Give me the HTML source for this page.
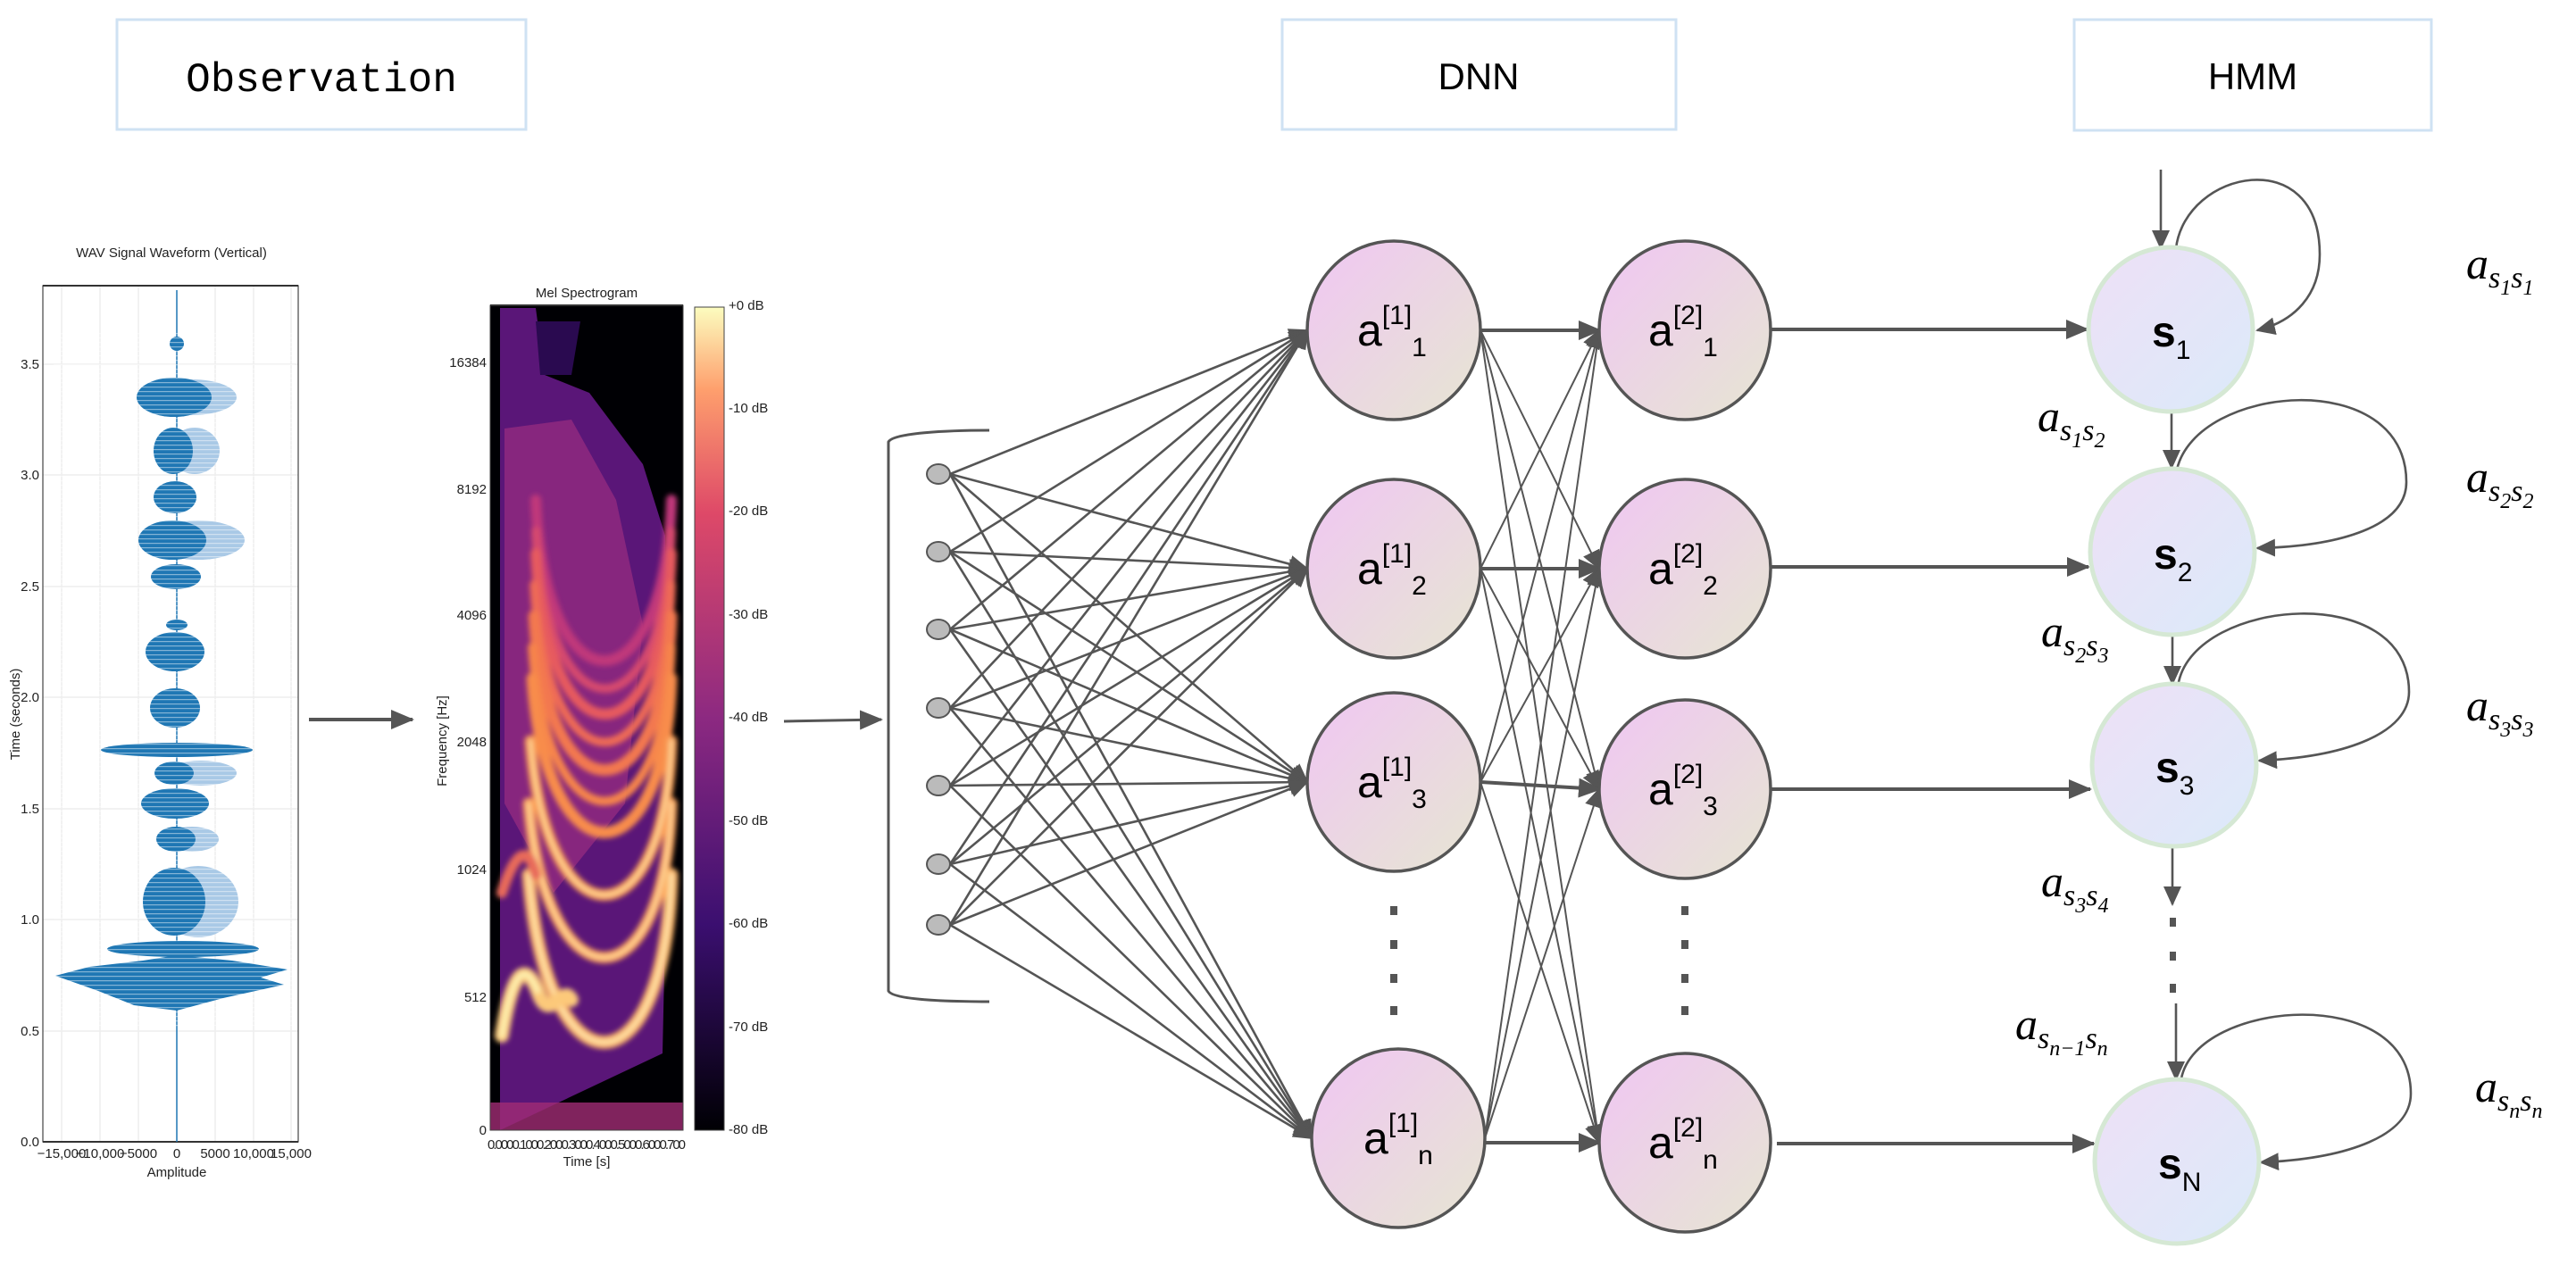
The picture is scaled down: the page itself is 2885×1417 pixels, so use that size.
<!DOCTYPE html>
<html><head><meta charset="utf-8"><style>
html,body{margin:0;padding:0;background:#fff;}
svg{display:block;}
.ax{font-family:"Liberation Sans Narrow","Liberation Sans",sans-serif;font-size:15px;fill:#222;}
.nd{font-family:"Liberation Sans",Arial,sans-serif;fill:#000;}
.mt{font-family:"Liberation Serif",serif;font-style:italic;fill:#000;}
</style></head><body>
<svg width="2885" height="1417" viewBox="0 0 2885 1417" xmlns="http://www.w3.org/2000/svg">
<defs>
<marker id="ah" markerUnits="userSpaceOnUse" markerWidth="26" markerHeight="22" refX="24" refY="11" orient="auto"><path d="M0,0 L26,11 L0,22 z" fill="#555"/></marker>
<marker id="ahs" markerUnits="userSpaceOnUse" markerWidth="22" markerHeight="20" refX="20" refY="10" orient="auto"><path d="M0,0 L22,10 L0,20 z" fill="#555"/></marker>
<linearGradient id="gd" x1="0" y1="0" x2="1" y2="1"><stop offset="0" stop-color="#f0c6f3"/><stop offset="1" stop-color="#e6e6d2"/></linearGradient>
<linearGradient id="gh" x1="0" y1="0" x2="1" y2="1"><stop offset="0" stop-color="#eee0f6"/><stop offset="1" stop-color="#dbeafa"/></linearGradient>
<linearGradient id="cb" x1="0" y1="1" x2="0" y2="0"><stop offset="0" stop-color="#000004"/><stop offset="0.25" stop-color="#3b0f70"/><stop offset="0.5" stop-color="#8c2981"/><stop offset="0.75" stop-color="#de4968"/><stop offset="0.9" stop-color="#fe9f6d"/><stop offset="1" stop-color="#fcfdbf"/></linearGradient>
<filter id="bl"><feGaussianBlur stdDeviation="3"/></filter>
<clipPath id="spc"><rect x="549" y="342" width="216" height="924"/></clipPath>
<pattern id="stp" width="6" height="5" patternUnits="userSpaceOnUse"><rect x="0" y="3" width="6" height="1.2" fill="#fff" opacity="0.45"/></pattern>
</defs>

<!-- title boxes -->
<rect x="131" y="22" width="458" height="123" fill="#fff" stroke="#cfe2f3" stroke-width="3"/>
<text x="360" y="102" text-anchor="middle" font-family="Liberation Mono,monospace" font-size="46">Observation</text>
<rect x="1436" y="22" width="441" height="123" fill="#fff" stroke="#cfe2f3" stroke-width="3"/>
<text x="1656" y="100" text-anchor="middle" font-family="Liberation Sans,sans-serif" font-size="42">DNN</text>
<rect x="2323" y="22" width="400" height="124" fill="#fff" stroke="#cfe2f3" stroke-width="3"/>
<text x="2523" y="100" text-anchor="middle" font-family="Liberation Sans,sans-serif" font-size="42">HMM</text>

<!-- waveform plot -->
<text class="ax" x="192" y="288" text-anchor="middle" font-size="16">WAV Signal Waveform (Vertical)</text>
<g stroke="#eee" stroke-width="1.5">
<line x1="48" y1="1155" x2="334" y2="1155"/><line x1="48" y1="1030" x2="334" y2="1030"/><line x1="48" y1="906" x2="334" y2="906"/><line x1="48" y1="781" x2="334" y2="781"/><line x1="48" y1="657" x2="334" y2="657"/><line x1="48" y1="532" x2="334" y2="532"/><line x1="48" y1="408" x2="334" y2="408"/>
<line x1="69" y1="320" x2="69" y2="1279"/><line x1="112" y1="320" x2="112" y2="1279"/><line x1="155" y1="320" x2="155" y2="1279"/><line x1="241" y1="320" x2="241" y2="1279"/><line x1="284" y1="320" x2="284" y2="1279"/><line x1="326" y1="320" x2="326" y2="1279"/>
</g>
<rect x="48" y="320" width="286" height="959" fill="none" stroke="#444" stroke-width="1.2"/>
<line x1="48" y1="320" x2="334" y2="320" stroke="#333" stroke-width="2"/>
<line x1="48" y1="1279" x2="334" y2="1279" stroke="#333" stroke-width="2"/>
<line x1="198" y1="325" x2="198" y2="1279" stroke="#1f77b4" stroke-width="1.5"/>
<g fill="#a9c9e6">
<ellipse cx="222" cy="1010" rx="45" ry="40"/><ellipse cx="215" cy="940" rx="30" ry="14"/><ellipse cx="225" cy="866" rx="40" ry="14"/><ellipse cx="222" cy="605" rx="52" ry="22"/><ellipse cx="218" cy="505" rx="28" ry="26"/><ellipse cx="215" cy="445" rx="50" ry="20"/>
</g>
<g fill="#1f77b4">
<polygon points="198,1132 150,1126 110,1110 62,1093 100,1083 160,1076 198,1070 260,1076 322,1086 292,1095 318,1103 250,1118"/>
<ellipse cx="205" cy="1063" rx="85" ry="9"/>
<ellipse cx="195" cy="1010" rx="35" ry="38"/>
<ellipse cx="197" cy="940" rx="22" ry="14"/>
<ellipse cx="196" cy="900" rx="38" ry="17"/>
<ellipse cx="195" cy="866" rx="22" ry="13"/>
<ellipse cx="198" cy="840" rx="85" ry="8"/>
<ellipse cx="196" cy="793" rx="28" ry="22"/>
<ellipse cx="196" cy="730" rx="33" ry="22"/>
<ellipse cx="198" cy="700" rx="12" ry="6"/>
<ellipse cx="197" cy="646" rx="28" ry="14"/>
<ellipse cx="193" cy="605" rx="38" ry="22"/>
<ellipse cx="196" cy="557" rx="24" ry="18"/>
<ellipse cx="194" cy="505" rx="22" ry="26"/>
<ellipse cx="195" cy="445" rx="42" ry="22"/>
<ellipse cx="198" cy="385" rx="8" ry="8"/>
</g>
<rect x="60" y="370" width="270" height="780" fill="url(#stp)"/>
<g class="ax" text-anchor="end">
<text x="44" y="1284">0.0</text><text x="44" y="1160">0.5</text><text x="44" y="1035">1.0</text><text x="44" y="911">1.5</text><text x="44" y="786">2.0</text><text x="44" y="662">2.5</text><text x="44" y="537">3.0</text><text x="44" y="413">3.5</text>
</g>
<g class="ax" text-anchor="middle" font-size="13">
<text x="69" y="1297">−15,000</text><text x="112" y="1297">−10,000</text><text x="155" y="1297">−5000</text><text x="198" y="1297">0</text><text x="241" y="1297">5000</text><text x="284" y="1297">10,000</text><text x="326" y="1297">15,000</text>
</g>
<text class="ax" x="198" y="1318" text-anchor="middle">Amplitude</text>
<text class="ax" x="0" y="0" transform="translate(22,800) rotate(-90)" text-anchor="middle" font-family="DejaVu Sans,sans-serif" font-size="14">Time (seconds)</text>

<!-- arrow 1 -->
<line x1="346" y1="806" x2="462" y2="806" stroke="#555" stroke-width="4" marker-end="url(#ah)"/>

<!-- spectrogram -->
<text class="ax" x="657" y="333" text-anchor="middle">Mel Spectrogram</text>
<g clip-path="url(#spc)">
<rect x="549" y="342" width="216" height="924" fill="#000004"/>
<path d="M560,345 L600,345 L610,420 L660,440 L720,520 L745,600 L748,900 L742,1180 L560,1266 Z" fill="#5a1678"/>
<path d="M565,480 L640,470 L690,560 L720,700 L700,900 L620,1000 L565,900 Z" fill="#9a2e80" opacity="0.7"/>
<path d="M600,360 L650,360 L640,420 L605,420 Z" fill="#2a0a50"/>
<g fill="none" filter="url(#bl)" stroke-linecap="round">
<path d="M600,560 C610,800 744,800 752,560" stroke="#c0387a" stroke-width="12"/>
<path d="M600,595 C612,830 744,830 752,595" stroke="#d54a6e" stroke-width="10"/>
<path d="M600,620 C612,860 744,860 752,620" stroke="#e65a5e" stroke-width="12"/>
<path d="M598,655 C612,890 744,890 752,655" stroke="#ee6a56" stroke-width="10"/>
<path d="M598,690 C612,920 744,920 752,690" stroke="#f3784f" stroke-width="13"/>
<path d="M596,725 C612,955 744,955 752,725" stroke="#f6844c" stroke-width="10"/>
<path d="M596,760 C612,990 744,990 752,760" stroke="#f88c4c" stroke-width="13"/>
<path d="M594,830 C612,1060 744,1060 752,830" stroke="#f99b52" stroke-width="13"/>
<path d="M592,900 C612,1130 744,1130 752,900" stroke="#fba05a" stroke-width="13"/>
<path d="M592,980 C612,1230 744,1230 752,980" stroke="#fcb366" stroke-width="15"/>
<path d="M594,830 C612,1060 744,1060 752,830" stroke="#fdd89a" stroke-width="4"/>
<path d="M592,900 C612,1130 744,1130 752,900" stroke="#fdd89a" stroke-width="4"/>
<path d="M592,980 C612,1230 744,1230 752,980" stroke="#fde2a8" stroke-width="5"/>
<path d="M562,1160 C575,1080 590,1080 602,1110 C615,1150 630,1100 640,1120" stroke="#fcc97a" stroke-width="16"/>
<path d="M562,1160 C575,1080 590,1080 602,1110" stroke="#fdf0b0" stroke-width="6"/>
<path d="M562,1000 C575,960 590,940 600,980" stroke="#e86a5a" stroke-width="12"/>
</g>
<rect x="549" y="1235" width="216" height="31" fill="#a02c74" opacity="0.8"/>
</g>
<rect x="549" y="342" width="216" height="924" fill="none" stroke="#444" stroke-width="1"/>
<line x1="549" y1="342" x2="765" y2="342" stroke="#333" stroke-width="2"/>
<g class="ax" text-anchor="end">
<text x="545" y="411">16384</text><text x="545" y="553">8192</text><text x="545" y="694">4096</text><text x="545" y="836">2048</text><text x="545" y="979">1024</text><text x="545" y="1122">512</text><text x="545" y="1271">0</text>
</g>
<text class="ax" x="0" y="0" transform="translate(500,830) rotate(-90)" text-anchor="middle" font-family="DejaVu Sans,sans-serif" font-size="12">Frequency [Hz]</text>
<text class="ax" x="657" y="1287" text-anchor="middle" font-size="14" textLength="222">0.0000.1000.2000.3000.4000.5000.6000.700</text>
<text class="ax" x="657" y="1306" text-anchor="middle" font-size="13">Time [s]</text>
<rect x="778" y="344" width="33" height="922" fill="url(#cb)" stroke="#444" stroke-width="1"/>
<g class="ax">
<text x="816" y="347">+0 dB</text><text x="816" y="462">-10 dB</text><text x="816" y="577">-20 dB</text><text x="816" y="693">-30 dB</text><text x="816" y="808">-40 dB</text><text x="816" y="924">-50 dB</text><text x="816" y="1039">-60 dB</text><text x="816" y="1155">-70 dB</text><text x="816" y="1270">-80 dB</text>
</g>

<!-- arrow 2 -->
<line x1="878" y1="808" x2="987" y2="806" stroke="#555" stroke-width="3" marker-end="url(#ah)"/>

<!-- bracket -->
<path d="M1108,482 C1060,482 1000,485 995,495 L995,1110 C1000,1120 1060,1122 1108,1122" fill="none" stroke="#555" stroke-width="3"/>

<!-- input edges -->
<g stroke="#555" stroke-width="2.6" marker-end="url(#ahs)">
<line x1="1064" y1="531" x2="1464" y2="370"/><line x1="1064" y1="531" x2="1464" y2="637"/><line x1="1064" y1="531" x2="1464" y2="876"/><line x1="1064" y1="531" x2="1469" y2="1275"/>
<line x1="1064" y1="618" x2="1464" y2="370"/><line x1="1064" y1="618" x2="1464" y2="637"/><line x1="1064" y1="618" x2="1464" y2="876"/><line x1="1064" y1="618" x2="1469" y2="1275"/>
<line x1="1064" y1="705" x2="1464" y2="370"/><line x1="1064" y1="705" x2="1464" y2="637"/><line x1="1064" y1="705" x2="1464" y2="876"/><line x1="1064" y1="705" x2="1469" y2="1275"/>
<line x1="1064" y1="793" x2="1464" y2="370"/><line x1="1064" y1="793" x2="1464" y2="637"/><line x1="1064" y1="793" x2="1464" y2="876"/><line x1="1064" y1="793" x2="1469" y2="1275"/>
<line x1="1064" y1="880" x2="1464" y2="370"/><line x1="1064" y1="880" x2="1464" y2="637"/><line x1="1064" y1="880" x2="1464" y2="876"/><line x1="1064" y1="880" x2="1469" y2="1275"/>
<line x1="1064" y1="968" x2="1464" y2="370"/><line x1="1064" y1="968" x2="1464" y2="637"/><line x1="1064" y1="968" x2="1464" y2="876"/><line x1="1064" y1="968" x2="1469" y2="1275"/>
<line x1="1064" y1="1036" x2="1464" y2="370"/><line x1="1064" y1="1036" x2="1464" y2="637"/><line x1="1064" y1="1036" x2="1464" y2="876"/><line x1="1064" y1="1036" x2="1469" y2="1275"/>
</g>
<g fill="#bbb" stroke="#555" stroke-width="2">
<ellipse cx="1051" cy="531" rx="13" ry="11"/><ellipse cx="1051" cy="618" rx="13" ry="11"/><ellipse cx="1051" cy="705" rx="13" ry="11"/><ellipse cx="1051" cy="793" rx="13" ry="11"/><ellipse cx="1051" cy="880" rx="13" ry="11"/><ellipse cx="1051" cy="968" rx="13" ry="11"/><ellipse cx="1051" cy="1036" rx="13" ry="11"/>
</g>

<!-- L1 -> L2 -->
<g stroke="#555" stroke-width="2">
<line x1="1658" y1="370" x2="1791" y2="637" marker-end="url(#ahs)"/><line x1="1658" y1="370" x2="1791" y2="884" marker-end="url(#ahs)"/><line x1="1658" y1="370" x2="1791" y2="1280" marker-end="url(#ahs)"/>
<line x1="1658" y1="637" x2="1791" y2="370" marker-end="url(#ahs)"/><line x1="1658" y1="637" x2="1791" y2="884" marker-end="url(#ahs)"/><line x1="1658" y1="637" x2="1791" y2="1280" marker-end="url(#ahs)"/>
<line x1="1658" y1="876" x2="1791" y2="370" marker-end="url(#ahs)"/><line x1="1658" y1="876" x2="1791" y2="637" marker-end="url(#ahs)"/><line x1="1658" y1="876" x2="1791" y2="1280" marker-end="url(#ahs)"/>
<line x1="1663" y1="1275" x2="1791" y2="370" marker-end="url(#ahs)"/><line x1="1663" y1="1275" x2="1791" y2="637" marker-end="url(#ahs)"/><line x1="1663" y1="1275" x2="1791" y2="884" marker-end="url(#ahs)"/>
</g>
<g stroke="#555" stroke-width="4" marker-end="url(#ah)">
<line x1="1658" y1="370" x2="1792" y2="370"/><line x1="1658" y1="637" x2="1792" y2="637"/><line x1="1658" y1="876" x2="1792" y2="884"/><line x1="1663" y1="1280" x2="1792" y2="1280"/>
<line x1="1983" y1="369" x2="2338" y2="369"/><line x1="1983" y1="635" x2="2339" y2="635"/><line x1="1983" y1="884" x2="2341" y2="884"/><line x1="1990" y1="1281" x2="2345" y2="1281"/>
</g>

<!-- DNN nodes -->
<g fill="url(#gd)" stroke="#555" stroke-width="3.5">
<ellipse cx="1561" cy="370" rx="97" ry="100"/><ellipse cx="1561" cy="637" rx="97" ry="100"/><ellipse cx="1561" cy="876" rx="97" ry="100"/><ellipse cx="1566" cy="1275" rx="97" ry="100"/>
<ellipse cx="1887" cy="370" rx="96" ry="100"/><ellipse cx="1887" cy="637" rx="96" ry="100"/><ellipse cx="1887" cy="884" rx="96" ry="100"/><ellipse cx="1887" cy="1280" rx="96" ry="100"/>
</g>
<g class="nd" font-size="50">
<text x="1520" y="387">a<tspan font-size="30" dy="-24">[1]</tspan><tspan font-size="30" dy="36">1</tspan></text>
<text x="1520" y="654">a<tspan font-size="30" dy="-24">[1]</tspan><tspan font-size="30" dy="36">2</tspan></text>
<text x="1520" y="893">a<tspan font-size="30" dy="-24">[1]</tspan><tspan font-size="30" dy="36">3</tspan></text>
<text x="1527" y="1292">a<tspan font-size="30" dy="-24">[1]</tspan><tspan font-size="30" dy="36">n</tspan></text>
<text x="1846" y="387">a<tspan font-size="30" dy="-24">[2]</tspan><tspan font-size="30" dy="36">1</tspan></text>
<text x="1846" y="654">a<tspan font-size="30" dy="-24">[2]</tspan><tspan font-size="30" dy="36">2</tspan></text>
<text x="1846" y="901">a<tspan font-size="30" dy="-24">[2]</tspan><tspan font-size="30" dy="36">3</tspan></text>
<text x="1846" y="1297">a<tspan font-size="30" dy="-24">[2]</tspan><tspan font-size="30" dy="36">n</tspan></text>
</g>
<g fill="#555">
<rect x="1557" y="1015" width="8" height="10"/><rect x="1557" y="1053" width="8" height="10"/><rect x="1557" y="1091" width="8" height="10"/><rect x="1557" y="1127" width="8" height="10"/>
<rect x="1883" y="1015" width="8" height="10"/><rect x="1883" y="1053" width="8" height="10"/><rect x="1883" y="1091" width="8" height="10"/><rect x="1883" y="1127" width="8" height="10"/>
<rect x="2430" y="1028" width="7" height="10"/><rect x="2430" y="1066" width="7" height="10"/><rect x="2430" y="1102" width="7" height="10"/>
</g>

<!-- HMM arrows -->
<g stroke="#555" stroke-width="2.6" fill="none" marker-end="url(#ahs)">
<line x1="2420" y1="190" x2="2420" y2="278"/>
<line x1="2432" y1="462" x2="2432" y2="524"/>
<line x1="2433" y1="713" x2="2433" y2="766"/>
<line x1="2433" y1="948" x2="2433" y2="1013"/>
<line x1="2437" y1="1124" x2="2437" y2="1209"/>
<path d="M2437,278 C2448,190 2598,160 2598,285 C2598,330 2570,360 2528,370"/>
<path d="M2438,526 C2460,430 2695,410 2695,540 C2695,590 2620,612 2528,614"/>
<path d="M2440,764 C2460,670 2698,650 2698,775 C2698,820 2630,848 2530,852"/>
<path d="M2443,1208 C2460,1120 2700,1100 2700,1225 C2700,1272 2630,1298 2532,1302"/>
</g>
<g fill="url(#gh)" stroke="#d5e8d4" stroke-width="5">
<ellipse cx="2431" cy="369" rx="92" ry="92"/><ellipse cx="2433" cy="618" rx="92" ry="93"/><ellipse cx="2435" cy="857" rx="92" ry="91"/><ellipse cx="2438" cy="1301" rx="92" ry="92"/>
</g>
<g class="nd" font-size="48" font-weight="bold">
<text x="2410" y="388">s<tspan font-size="30" font-weight="normal" dy="14">1</tspan></text>
<text x="2412" y="637">s<tspan font-size="30" font-weight="normal" dy="14">2</tspan></text>
<text x="2414" y="876">s<tspan font-size="30" font-weight="normal" dy="14">3</tspan></text>
<text x="2417" y="1320">s<tspan font-size="30" font-weight="normal" dy="14">N</tspan></text>
</g>

<!-- HMM labels -->
<g class="mt" font-size="50">
<text x="2762" y="312">a<tspan font-size="34" dy="10">s</tspan><tspan font-size="24" dy="8">1</tspan><tspan font-size="34" dy="-8">s</tspan><tspan font-size="24" dy="8">1</tspan></text>
<text x="2282" y="483">a<tspan font-size="34" dy="10">s</tspan><tspan font-size="24" dy="8">1</tspan><tspan font-size="34" dy="-8">s</tspan><tspan font-size="24" dy="8">2</tspan></text>
<text x="2762" y="551">a<tspan font-size="34" dy="10">s</tspan><tspan font-size="24" dy="8">2</tspan><tspan font-size="34" dy="-8">s</tspan><tspan font-size="24" dy="8">2</tspan></text>
<text x="2286" y="724">a<tspan font-size="34" dy="10">s</tspan><tspan font-size="24" dy="8">2</tspan><tspan font-size="34" dy="-8">s</tspan><tspan font-size="24" dy="8">3</tspan></text>
<text x="2762" y="807">a<tspan font-size="34" dy="10">s</tspan><tspan font-size="24" dy="8">3</tspan><tspan font-size="34" dy="-8">s</tspan><tspan font-size="24" dy="8">3</tspan></text>
<text x="2286" y="1004">a<tspan font-size="34" dy="10">s</tspan><tspan font-size="24" dy="8">3</tspan><tspan font-size="34" dy="-8">s</tspan><tspan font-size="24" dy="8">4</tspan></text>
<text x="2257" y="1164">a<tspan font-size="34" dy="10">s</tspan><tspan font-size="24" dy="8">n−1</tspan><tspan font-size="34" dy="-8">s</tspan><tspan font-size="24" dy="8">n</tspan></text>
<text x="2772" y="1234">a<tspan font-size="34" dy="10">s</tspan><tspan font-size="24" dy="8">n</tspan><tspan font-size="34" dy="-8">s</tspan><tspan font-size="24" dy="8">n</tspan></text>
</g>
</svg>
</body></html>
